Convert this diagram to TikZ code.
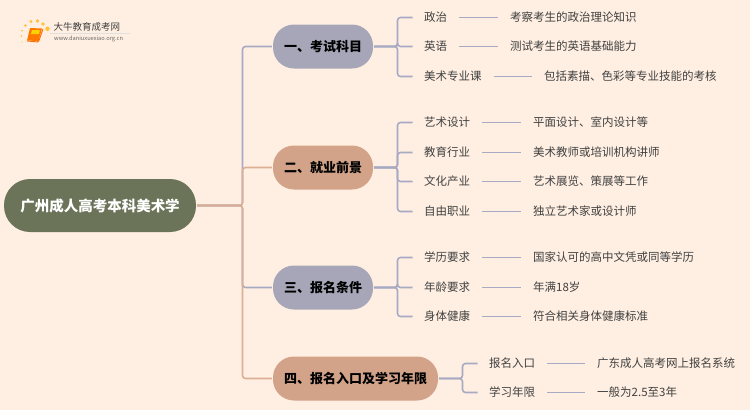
\documentclass[tikz,border=0pt]{standalone}
\usepackage{fontspec}
\setmainfont{Noto Sans CJK SC}
\definecolor{bgc}{HTML}{FFEFE2}
\definecolor{rootc}{HTML}{6B7358}
\definecolor{greyc}{HTML}{A6A6B8}
\definecolor{peachc}{HTML}{D2A388}
\definecolor{linegrey}{HTML}{A8AAC4}
\definecolor{linepeach}{HTML}{DCAE93}
\definecolor{leaft}{HTML}{404040}
\tikzset{
 x=1pt,y=-1pt,
 rootbox/.style={rounded corners=26pt,fill=rootc,text=white,font=\fontsize{14.5}{15}\selectfont\bfseries,minimum height=53pt,minimum width=192pt,inner sep=0pt},
 branch/.style={rounded corners=21pt,minimum height=44pt,inner sep=0pt,text=black,font=\fontsize{13}{14}\selectfont\bfseries},
 leaf/.style={anchor=west,inner sep=0pt,text=leaft,font=\fontsize{11.5}{12}\selectfont},
 conn/.style={line width=1.6pt,rounded corners=3pt},
}
\begin{document}
\begin{tikzpicture}
\fill[bgc] (0,0) rectangle (750,410);
\useasboundingbox (0,0) rectangle (750,410);
% logo
\foreach \a/\b/\r in {22/42/.7,21.5/36/.9,22/30.5/1,25.5/25.5/1.3,31/21.5/1.7,37.5/21/1.8,43/24/1.8,47.5/28.8/2.2}
 \fill[orange!60!yellow,opacity=.75] (\a,\b) circle (\r);
\fill[orange!95!red] (30,28) -- (42,28.5) -- (38.5,41) -- (27,40.5) -- cycle;
\fill[yellow!70!orange] (32,30) -- (40,30.3) -- (39,34) -- (31,34) -- cycle;
\draw[orange!85!red,line width=.9pt,rounded corners=1pt] (27,41) -- (38.5,42) -- (43,29);
\node[anchor=west,inner sep=0pt,text=black!75,font=\fontsize{9.5}{10}\selectfont] (logot) at (53.5,27) {大牛教育成考网};
\node[anchor=west,inner sep=0pt,text=black!60,font=\fontsize{5.7}{7}\selectfont] (logou) at (54,38.7) {www.daniuxuexiao.org.cn};
\draw[black!12,line width=.5pt] (50,33.5) -- (130,33.5);
% nodes
\node[rootbox] (root) at (100,205.5) {广州成人高考本科美术学};
\node[branch,fill=greyc,minimum width=100pt] (b1) at (323,46.5) {一、考试科目};
\node[branch,fill=peachc,minimum width=100pt] (b2) at (323,167.5) {二、就业前景};
\node[branch,fill=greyc,minimum width=100pt] (b3) at (323,287.5) {三、报名条件};
\node[branch,fill=peachc,minimum width=165pt] (b4) at (355.5,378.5) {四、报名入口及学习年限};
% leaves
\node[leaf] (a1) at (424,17.5) {政治};
\node[leaf] (a2) at (424,46.5) {英语};
\node[leaf] (a3) at (424,76.5) {美术专业课};
\node[leaf] (d1) at (510,17.5) {考察考生的政治理论知识};
\node[leaf] (d2) at (510,46.5) {测试考生的英语基础能力};
\node[leaf] (d3) at (544,76.5) {包括素描、色彩等专业技能的考核};
\node[leaf] (a4) at (424,122.5) {艺术设计};
\node[leaf] (a5) at (424,152.5) {教育行业};
\node[leaf] (a6) at (424,181.5) {文化产业};
\node[leaf] (a7) at (424,211.5) {自由职业};
\node[leaf] (d4) at (533,122.5) {平面设计、室内设计等};
\node[leaf] (d5) at (533,152.5) {美术教师或培训机构讲师};
\node[leaf] (d6) at (533,181.5) {艺术展览、策展等工作};
\node[leaf] (d7) at (533,211.5) {独立艺术家或设计师};
\node[leaf] (a8) at (424,257.5) {学历要求};
\node[leaf] (a9) at (424,287.5) {年龄要求};
\node[leaf] (a10) at (424,316.5) {身体健康};
\node[leaf] (d8) at (533,257.5) {国家认可的高中文凭或同等学历};
\node[leaf] (d9) at (533,287.5) {年满18岁};
\node[leaf] (d10) at (533,316.5) {符合相关身体健康标准};
\node[leaf] (a11) at (489,363.5) {报名入口};
\node[leaf] (a12) at (489,392.5) {学习年限};
\node[leaf] (d11) at (597,363.5) {广东成人高考网上报名系统};
\node[leaf] (d12) at (597,392.5) {一般为2.5至3年};
% trunk connectors
\draw[conn,linegrey] ([xshift=1pt]root.east) -- (242.5,205.5) -- (242.5,46.5) -- ([xshift=-1pt]b1.west);
\draw[conn,linegrey] ([xshift=1pt]root.east) -- (242.5,205.5) -- (242.5,287.5) -- ([xshift=-1pt]b3.west);
\draw[conn,linepeach] ([xshift=1pt]root.east) -- (242.5,205.5) -- (242.5,167.5) -- ([xshift=-1pt]b2.west);
\draw[conn,linepeach] ([xshift=1pt]root.east) -- (242.5,205.5) -- (242.5,378.5) -- ([xshift=-1pt]b4.west);
% branch to leaf
\foreach \f/\t in {b1/a1,b1/a2,b1/a3,b2/a4,b2/a5,b2/a6,b2/a7,b3/a8,b3/a9,b3/a10}{
 \draw[conn,linegrey] ([xshift=1pt]\f.east) -- (397.5,0 |- \f.east) -- (397.5,0 |- \t.west) -- ([xshift=-11.5pt]\t.west);
}
\foreach \t in {a11,a12}{
 \draw[conn,linegrey] ([xshift=1pt]b4.east) -- (462.5,378.5) -- (462.5,0 |- \t.west) -- ([xshift=-11.5pt]\t.west);
}
% leaf to detail
\foreach \f/\t in {a1/d1,a2/d2,a3/d3,a4/d4,a5/d5,a6/d6,a7/d7,a8/d8,a9/d9,a10/d10,a11/d11,a12/d12}{
 \draw[line width=1.6pt,linegrey] ([xshift=12pt]\f.east) -- ([xshift=-12pt]\t.west |- \f.east);
}
\end{tikzpicture}
\end{document}
